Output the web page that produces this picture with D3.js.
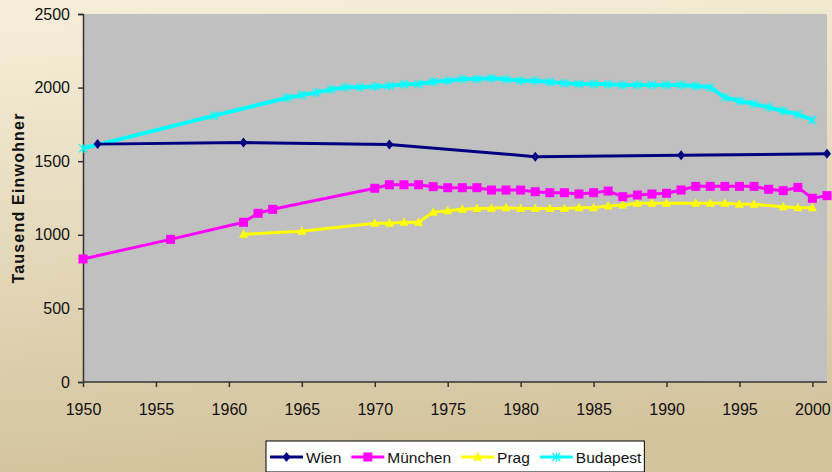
<!DOCTYPE html>
<html>
<head>
<meta charset="utf-8">
<script src="https://cdn.jsdelivr.net/npm/d3@7"></script>
<style>
  html, body { margin: 0; padding: 0; }
  svg { display: block; font-family: "Liberation Sans", Arial, sans-serif; }
</style>
</head>
<body>
<svg id="chart" width="832" height="472"></svg>
<script>
// Einwohner in Tausend
var wienYears = [1951, 1961, 1971, 1981, 1991, 2001];
var wienValues = [1616, 1627, 1614, 1531, 1540, 1550];

var muenchenYears = [1950, 1956, 1961, 1962, 1963, 1970, 1971, 1972, 1973, 1974, 1975, 1976, 1977, 1978, 1979, 1980,
    1981, 1982, 1983, 1984, 1985, 1986, 1987, 1988, 1989, 1990, 1991, 1992, 1993, 1994, 1995, 1996, 1997, 1998, 1999, 2000, 2001];
var muenchenValues = [836, 969, 1085, 1146, 1173, 1316, 1340, 1340, 1340, 1327, 1320, 1320, 1320, 1304, 1304, 1304,
    1293, 1286, 1286, 1277, 1286, 1297, 1259, 1270, 1277, 1282, 1304, 1329, 1329, 1329, 1329, 1329, 1309, 1300, 1322, 1248, 1266];

var pragYears = [1961, 1965, 1970, 1971, 1972, 1973, 1974, 1975, 1976, 1977, 1978, 1979, 1980, 1981, 1982, 1983,
    1984, 1985, 1986, 1987, 1988, 1989, 1990, 1992, 1993, 1994, 1995, 1996, 1998, 1999, 2000];
var pragValues = [1003, 1024, 1078, 1078, 1085, 1085, 1153, 1164, 1173, 1178, 1180, 1184, 1178, 1178, 1178, 1178,
    1184, 1184, 1196, 1202, 1214, 1214, 1214, 1214, 1214, 1214, 1207, 1207, 1191, 1184, 1184];

var budapestYears = [1950, 1959, 1964, 1965, 1966, 1967, 1968, 1969, 1970, 1971, 1972, 1973, 1974, 1975, 1976, 1977,
    1978, 1979, 1980, 1981, 1982, 1983, 1984, 1985, 1986, 1987, 1988, 1989, 1990, 1991, 1992, 1993, 1994, 1995,
    1996, 1997, 1998, 1999, 2000];
var budapestValues = [1587, 1810, 1931, 1950, 1966, 1988, 2002, 2002, 2008, 2011, 2022, 2024, 2040, 2047, 2058, 2058,
    2063, 2056, 2047, 2047, 2038, 2029, 2024, 2024, 2022, 2018, 2018, 2018, 2018, 2018, 2011, 2002, 1934, 1909,
    1889, 1866, 1841, 1818, 1780];

var xTicks = [1950, 1955, 1960, 1965, 1970, 1975, 1980, 1985, 1990, 1995, 2000];
var yTicks = [0, 500, 1000, 1500, 2000, 2500];

var cities = ["Wien", "München", "Prag", "Budapest"];
var colors = ["#000080", "#FF00FF", "#FFFF00", "#00FFFF"];

var svg = d3.select("#chart");
var width = 832, height = 472;
var margin = {left: 83, top: 14, right: 5, bottom: 90};

// background
var defs = svg.append("defs");
var grad = defs.append("linearGradient").attr("id", "bg")
    .attr("x1", "0").attr("y1", "0").attr("x2", "0.15").attr("y2", "1");
grad.append("stop").attr("offset", "0%").attr("stop-color", "#F7EFDA");
grad.append("stop").attr("offset", "100%").attr("stop-color", "#D3C49E");
svg.append("rect").attr("width", width).attr("height", height).attr("fill", "url(#bg)");

var x = d3.scaleLinear().domain([1950, 2001]).range([margin.left, width - margin.right]);
var y = d3.scaleLinear().domain([0, 2500]).range([height - margin.bottom, margin.top]);

svg.append("rect")
    .attr("x", x(1950)).attr("y", y(2500))
    .attr("width", x(2001) - x(1950)).attr("height", y(0) - y(2500))
    .attr("fill", "#C0C0C0");

// axes
var xAxis = svg.append("g")
    .attr("transform", "translate(0," + y(0) + ")")
    .call(d3.axisBottom(x).tickValues(xTicks).tickFormat(d3.format("d")).tickSize(5).tickPadding(17));
var yAxis = svg.append("g")
    .attr("transform", "translate(" + x(1950) + ",0)")
    .call(d3.axisLeft(y).tickValues(yTicks).tickFormat(d3.format("d")).tickSize(5).tickPadding(8));

[xAxis, yAxis].forEach(function(a) {
    a.select(".domain").attr("stroke", "#333").attr("stroke-width", 1.5);
    a.selectAll(".tick line").attr("stroke", "#333").attr("stroke-width", 1.5);
    a.selectAll(".tick text").attr("fill", "#111").style("font-size", "16px")
        .style("font-family", "'Liberation Sans', Arial, sans-serif");
});
xAxis.select(".domain").attr("d", "M" + x(1950) + ",0H" + x(2001));

svg.append("text")
    .attr("transform", "translate(24," + ((y(0) + y(2500)) / 2) + ") rotate(-90)")
    .attr("text-anchor", "middle")
    .style("font-size", "16px")
    .style("font-weight", "bold")
    .style("letter-spacing", "1.2px")
    .attr("fill", "#111")
    .text("Tausend Einwohner");

// series
var series = [
    {name: cities[0], years: wienYears, values: wienValues, color: colors[0], width: 3, marker: "diamond"},
    {name: cities[1], years: muenchenYears, values: muenchenValues, color: colors[1], width: 3, marker: "square"},
    {name: cities[2], years: pragYears, values: pragValues, color: colors[2], width: 3, marker: "triangle"},
    {name: cities[3], years: budapestYears, values: budapestValues, color: colors[3], width: 4, marker: "star"}
];

var line = d3.line()
    .x(function(d) { return x(d[0]); })
    .y(function(d) { return y(d[1]); });

function drawMarker(g, type, color) {
    if (type === "diamond") {
        g.append("path").attr("d", "M0,-5L4,0L0,5L-4,0Z").attr("fill", color);
    } else if (type === "square") {
        g.append("rect").attr("x", -4.5).attr("y", -4.5).attr("width", 9).attr("height", 9).attr("fill", color);
    } else if (type === "triangle") {
        g.append("path").attr("d", "M0,-5L4.5,3.5L-4.5,3.5Z").attr("fill", color);
    } else {
        g.append("path").attr("d", "M-4,-4L4,4M-4,4L4,-4M0,-4.5V4.5")
            .attr("stroke", color).attr("stroke-width", 1.2).attr("fill", "none");
    }
}

// Budapest first so the others sit on top
var drawOrder = [3, 2, 1, 0];
drawOrder.forEach(function(i) {
    var s = series[i];
    var pts = s.years.map(function(yr, j) { return [yr, s.values[j]]; });
    var g = svg.append("g").attr("class", "series");
    g.append("path").datum(pts)
        .attr("d", line)
        .attr("fill", "none")
        .attr("stroke", s.color)
        .attr("stroke-width", s.width)
        .attr("stroke-linejoin", "round");
    g.selectAll(".pt").data(pts).enter().append("g")
        .attr("class", "pt")
        .attr("transform", function(d) { return "translate(" + x(d[0]) + "," + y(d[1]) + ")"; })
        .each(function() { drawMarker(d3.select(this), s.marker, s.color); });
});

// legend
var legend = svg.append("g").attr("transform", "translate(266,441)");
var legendBox = legend.append("rect")
    .attr("x", 0).attr("y", 0).attr("height", 31)
    .attr("fill", "#fff").attr("stroke", "#000").attr("stroke-width", 1);

var lx = 4;
series.forEach(function(s) {
    var item = legend.append("g").attr("transform", "translate(" + lx + ",16)");
    item.append("line").attr("x1", 0).attr("x2", 33).attr("y1", 0).attr("y2", 0)
        .attr("stroke", s.color).attr("stroke-width", 3);
    var m = item.append("g").attr("transform", "translate(16.5,0)");
    drawMarker(m, s.marker, s.color);
    var t = item.append("text").attr("x", 36).attr("y", 5.5)
        .style("font-size", "15.5px").attr("fill", "#111").text(s.name);
    lx += 36 + t.node().getComputedTextLength() + 10;
});
legendBox.attr("width", lx - 7);
</script>
</body>
</html>
